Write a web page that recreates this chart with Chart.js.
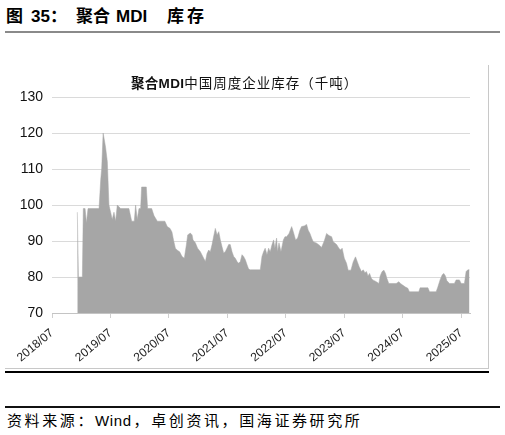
<!DOCTYPE html>
<html>
<head>
<meta charset="utf-8">
<script src="https://cdn.jsdelivr.net/npm/chart.js@4"></script>
<style>
  body { margin: 0; width: 505px; height: 435px; background: #fff; position: relative; overflow: hidden; }
  .abs { position: absolute; }
  .t { top: 6px; font: bold 17px "Liberation Sans", "Noto Sans CJK SC", sans-serif; line-height: 22px; color: #000; white-space: nowrap; }
  #chartTitle { left: 131px; top: 76px; font: 13.5px "Liberation Sans", "Noto Sans CJK SC", sans-serif; letter-spacing: 1px; line-height: 16px; color: #111; white-space: nowrap; }
  #chartTitle b { letter-spacing: 0.3px; }
  #source { left: 7px; top: 411px; font: 15px "Liberation Sans", "Noto Sans CJK SC", sans-serif; letter-spacing: 2.6px; line-height: 20px; color: #000; white-space: nowrap; }
  #source .lat { letter-spacing: 0.6px; margin-right: 2px; }
  #wrap { left: 0; top: 60px; width: 488px; height: 308px; }
</style>
</head>
<body>
<div class="abs t" style="left:6px">图</div>
<div class="abs t" style="left:31px">35：</div>
<div class="abs t" style="left:76px">聚合</div>
<div class="abs t" style="left:116px">MDI</div>
<div class="abs t" style="left:167px;letter-spacing:3px">库存</div>
<div class="abs" style="left:5px;top:31px;width:495px;height:2px;background:#8a8a8a"></div>

<div id="wrap" class="abs"><canvas id="stockChart" width="488" height="308"></canvas></div>
<div id="chartTitle" class="abs"><b>聚合MDI</b>中国周度企业库存（千吨）</div>

<div class="abs" style="left:488px;top:65px;width:1px;height:303px;background:#c8c8c8"></div>
<div class="abs" style="left:5px;top:368px;width:484px;height:1px;background:#c8c8c8"></div>
<div class="abs" style="left:5px;top:371px;width:484px;height:2px;background:#000"></div>

<div class="abs" style="left:5px;top:406px;width:495px;height:2px;background:#111"></div>
<div id="source" class="abs">资料来源：<span class="lat">Wind</span>，卓创资讯，国海证券研究所</div>

<script>
// ================================
// DATA (weekly stock)
// ================================
const dates = [
  "2018-12-07", "2018-12-14", "2019-01-08", "2019-01-14", "2019-01-25", "2019-02-03", "2019-02-13", "2019-04-21",
  "2019-05-01", "2019-05-07", "2019-05-16", "2019-05-24", "2019-06-01", "2019-06-12", "2019-06-22", "2019-07-02",
  "2019-07-12", "2019-07-23", "2019-08-03", "2019-08-13", "2019-09-04", "2019-10-25", "2019-11-12", "2019-11-28",
  "2019-12-06", "2019-12-16", "2019-12-27", "2020-01-07", "2020-01-13", "2020-02-12", "2020-02-20", "2020-03-15",
  "2020-03-30", "2020-04-20", "2020-06-06", "2020-06-21", "2020-07-08", "2020-07-20", "2020-07-31", "2020-08-11",
  "2020-08-21", "2020-09-07", "2020-09-22", "2020-10-06", "2020-10-19", "2020-10-27", "2020-11-13", "2020-11-24",
  "2020-11-30", "2020-12-14", "2020-12-28", "2021-01-15", "2021-02-05", "2021-02-16", "2021-02-26", "2021-03-06",
  "2021-03-16", "2021-03-27", "2021-04-07", "2021-04-17", "2021-04-28", "2021-05-08", "2021-05-18", "2021-05-28",
  "2021-06-08", "2021-06-18", "2021-06-29", "2021-07-09", "2021-07-19", "2021-07-30", "2021-08-10", "2021-08-20",
  "2021-08-31", "2021-09-10", "2021-09-21", "2021-10-01", "2021-10-11", "2021-10-22", "2021-11-02", "2021-11-12",
  "2021-11-22", "2022-01-24", "2022-02-04", "2022-02-14", "2022-02-24", "2022-03-05", "2022-03-15", "2022-03-25",
  "2022-04-06", "2022-04-16", "2022-04-24", "2022-05-04", "2022-05-10", "2022-05-19", "2022-06-01", "2022-06-16",
  "2022-06-26", "2022-07-06", "2022-07-21", "2022-08-07", "2022-08-17", "2022-09-01", "2022-09-14", "2022-09-28",
  "2022-10-08", "2022-10-25", "2022-11-09", "2022-11-19", "2022-11-30", "2022-12-10", "2022-12-20", "2023-01-11",
  "2023-02-01", "2023-02-11", "2023-02-28", "2023-03-12", "2023-03-27", "2023-04-13", "2023-04-23", "2023-05-14",
  "2023-05-28", "2023-06-08", "2023-06-18", "2023-07-01", "2023-07-15", "2023-07-25", "2023-08-12", "2023-08-26",
  "2023-09-10", "2023-09-22", "2023-10-03", "2023-10-17", "2023-10-28", "2023-11-08", "2023-11-18", "2023-11-27",
  "2023-12-07", "2023-12-17", "2023-12-27", "2024-01-18", "2024-02-04", "2024-02-12", "2024-02-24", "2024-03-05",
  "2024-03-15", "2024-03-23", "2024-04-05", "2024-05-21", "2024-06-07", "2024-06-17", "2024-07-02", "2024-07-18",
  "2024-08-02", "2024-08-12", "2024-10-10", "2024-10-18", "2024-12-06", "2024-12-16", "2025-01-27", "2025-02-07",
  "2025-02-21", "2025-03-04", "2025-03-14", "2025-03-24", "2025-04-02", "2025-04-19", "2025-05-19", "2025-05-30",
  "2025-06-20", "2025-07-01", "2025-07-21", "2025-08-01", "2025-08-12", "2025-08-22"
];

const stock = [
  98, 80, 80, 99, 99, 95, 99, 99,
  107, 110, 120, 118, 116, 112, 100, 98,
  96, 98, 95.5, 100, 99, 99, 95.5, 95.5,
  100, 96, 99, 99, 105, 105, 99, 99,
  97, 95.5, 95.5, 94, 93.5, 92.5, 90, 88,
  87.5, 87, 85.7, 85.2, 89, 91.7, 92.2, 91.7,
  90.3, 89.5, 88, 87, 85.2, 84.3, 86.5, 87.5,
  87, 89, 91.4, 93.5, 91.7, 92.6, 90.3, 88.5,
  86.7, 87, 88, 89, 89, 87, 85.7, 85.2,
  84.3, 83.8, 84.3, 86.2, 85.7, 84.8, 83.4, 82.2,
  82, 82, 85.7, 87, 88, 86.2, 88, 87,
  89, 90.3, 88, 90.8, 87, 89.5, 87, 90.3,
  91.2, 91.2, 92.1, 94, 92.6, 90.3, 90.8, 93,
  94, 94.2, 94.6, 93, 92.1, 90.8, 89.8, 89.4,
  88.7, 88.2, 90, 92.1, 91.5, 91.2, 89.8, 89,
  88, 87.5, 88, 85.2, 83.8, 81.9, 81.9, 84.2,
  85.6, 84.2, 82.8, 81.5, 82, 81.2, 81.5, 80.3,
  81, 79.7, 79.2, 78.7, 78.2, 80.3, 81.5, 81.9,
  81, 79.7, 78.2, 78.2, 78.7, 78.2, 77.7, 77.2,
  76.9, 75.9, 75.9, 77, 77, 75.9, 75.9, 77.2,
  79.2, 80.6, 81, 80.3, 79, 78.2, 78.2, 79.2,
  79.2, 78.2, 78.2, 81.5, 82, 82
];

const xTickLabels = ["2018/07", "2019/07", "2020/07", "2021/07", "2022/07", "2023/07", "2024/07", "2025/07"];
const yMin = 70, yMax = 130, yStep = 10;

// months since 2018-07-01, used as the linear x value
function monthsFrom(d) {
  const [y, m, dd] = d.split("-").map(Number);
  return (y - 2018) * 12 + (m - 7) + (dd - 1) / 30.5;
}

const points = dates.map((d, i) => ({ x: monthsFrom(d), y: stock[i] }));

new Chart(document.getElementById("stockChart"), {
  type: "line",
  data: {
    datasets: [{
      data: points,
      fill: "start",
      backgroundColor: "#a6a6a6",
      borderColor: "#a6a6a6",
      borderWidth: 0.5,
      pointRadius: 0,
      tension: 0
    }]
  },
  options: {
    responsive: false,
    devicePixelRatio: 1,
    animation: false,
    layout: { padding: { top: 37, right: 18, left: 0, bottom: 0 } },
    plugins: { legend: { display: false }, tooltip: { enabled: false }, title: { display: false } },
    scales: {
      x: {
        type: "linear",
        min: 0,
        max: 85.8,
        afterFit: s => { s.height = 55; },
        afterBuildTicks: s => { s.ticks = xTickLabels.map((_, i) => ({ value: i * 12 })); },
        grid: { display: true, drawOnChartArea: false, drawTicks: true, tickLength: 5, color: "#cfcfcf" },
        border: { display: true, color: "#c4c4c4", width: 1 },
        ticks: {
          autoSkip: false,
          minRotation: 40,
          maxRotation: 40,
          padding: 8,
          color: "#222",
          font: { family: "Liberation Sans", size: 12 },
          callback: (v, i) => xTickLabels[i]
        }
      },
      y: {
        min: yMin,
        max: yMax,
        afterFit: s => { s.width = 52; },
        grid: { color: "#dadada", drawTicks: false },
        border: { display: false },
        ticks: {
          stepSize: yStep,
          padding: 9,
          color: "#111",
          font: { family: "Liberation Sans", size: 14 }
        }
      }
    }
  }
});
</script>
</body>
</html>
